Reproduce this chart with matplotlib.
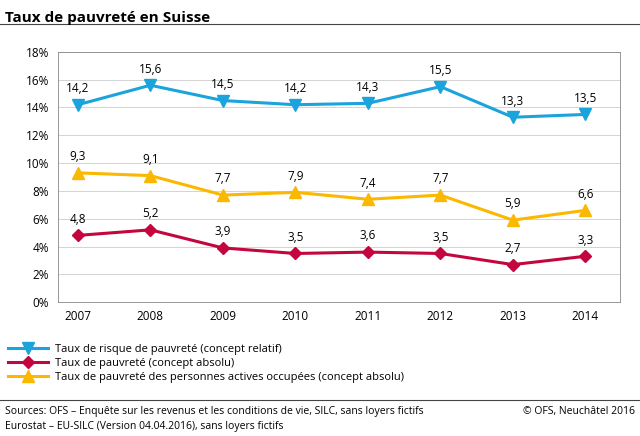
import matplotlib.pyplot as plt
from matplotlib.lines import Line2D

years = [2007, 2008, 2009, 2010, 2011, 2012, 2013, 2014]
relatif = [14.2, 15.6, 14.5, 14.2, 14.3, 15.5, 13.3, 13.5]
absolu = [4.8, 5.2, 3.9, 3.5, 3.6, 3.5, 2.7, 3.3]
actifs = [9.3, 9.1, 7.7, 7.9, 7.4, 7.7, 5.9, 6.6]
labels = ["Taux de risque de pauvreté (concept relatif)",
          "Taux de pauvreté (concept absolu)",
          "Taux de pauvreté des personnes actives occupées (concept absolu)"]
colors = ["#1ba3dc", "#c4063f", "#fbb800"]
markers = ["v", "D", "^"]
sizes = [8, 6, 8]

plt.rcParams["font.family"] = ["Open Sans", "DejaVu Sans"]
fig = plt.figure(figsize=(6.4, 4.36), dpi=100)
fig.text(0.008, 0.975, "Taux de pauvreté en Suisse", fontsize=11, fontweight="bold", va="top")
fig.add_artist(Line2D([0, 1], [0.945, 0.945], color="#444444", lw=0.8))

ax = fig.add_axes([0.09, 0.307, 0.879, 0.574])
handles = []
for vals, c, m, s, lab in zip([relatif, absolu, actifs], colors, markers, sizes, labels):
    h, = ax.plot(years, vals, color=c, lw=2.2, marker=m, markersize=s, label=lab)
    handles.append(h)
    for x, y in zip(years, vals):
        ax.annotate(f"{y:.1f}".replace(".", ","), (x, y), xytext=(0, 7),
                    textcoords="offset points", ha="center", va="bottom", fontsize=8.5)
ax.set_xlim(2006.72, 2014.48)
ax.set_ylim(0, 18)
ax.set_yticks(range(0, 19, 2))
ax.set_yticklabels([f"{v}%" for v in range(0, 19, 2)], fontsize=8.5)
ax.set_xticks(years)
ax.set_xticklabels([str(y) for y in years], fontsize=8.5)
ax.grid(axis="y", color="#cccccc", lw=0.6)
ax.set_axisbelow(True)
ax.tick_params(length=0, pad=6)
for sp in ax.spines.values():
    sp.set_color("#888888")
    sp.set_linewidth(0.6)

fig.legend(handles=handles, loc="upper left", bbox_to_anchor=(0.005, 0.222), frameon=False,
           fontsize=8, handlelength=3.6, handletextpad=0.7, labelspacing=0.3, borderaxespad=0)
fig.add_artist(Line2D([0, 1], [0.082, 0.082], color="#444444", lw=0.8))
fig.text(0.008, 0.068, "Sources: OFS – Enquête sur les revenus et les conditions de vie, SILC, sans loyers fictifs\n"
         "Eurostat – EU-SILC (Version 04.04.2016), sans loyers fictifs", fontsize=7.5, va="top", linespacing=1.4)
fig.text(0.992, 0.068, "© OFS, Neuchâtel 2016", fontsize=7.5, va="top", ha="right")
fig.savefig("out.png", dpi=100)
